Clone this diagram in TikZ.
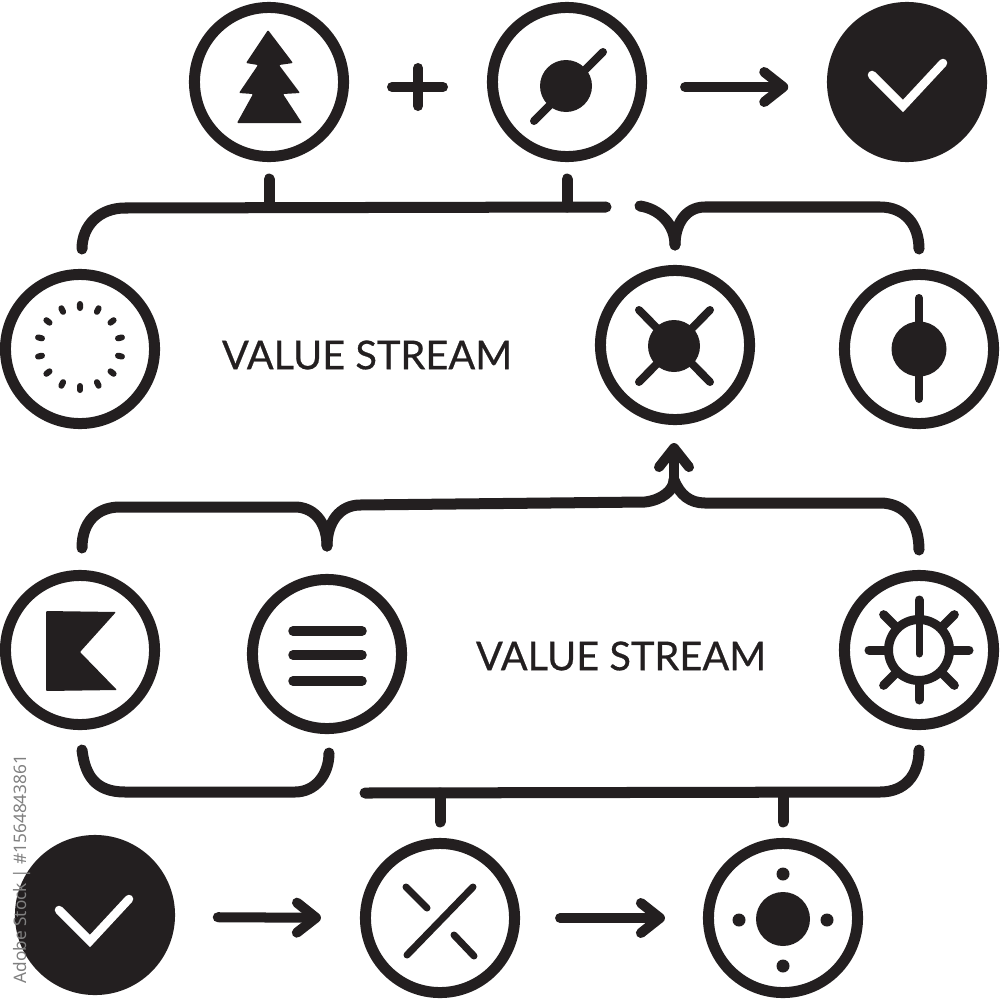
\documentclass[tikz,border=0pt]{standalone}
\usepackage{fontspec}
\setmainfont{Lato}
\newfontfamily\streamfont[FakeBold=0.6]{Lato}
\newfontfamily\stockfont{Noto Sans}
\usetikzlibrary{arrows.meta}
\definecolor{inkblack}{HTML}{231F20}
\tikzset{
    ring/.style={circle, draw=inkblack, line width=.11cm, inner sep=0, minimum size=1.49cm},
    solidring/.style={circle, fill=inkblack, inner sep=0, minimum size=1.60cm},
    bracket/.style={draw=inkblack, line width=.11cm, line cap=round, line join=round},
    glyph/.style={draw=inkblack, line width=.08cm, line cap=round, line join=round},
    blob/.style={fill=inkblack, rounded corners=.01cm},
    tick/.style={draw=white, line width=.085cm, line cap=round, line join=miter},
    flow/.style={bracket, line width=.10cm, -{Straight Barb[round, length=.19cm, width=.30cm, line width=.10cm]}},
    streamlabel/.style={text=inkblack, font=\streamfont\fontsize{11.3}{13}\selectfont},
}
\begin{document}
\begin{tikzpicture}[x=.01cm, y=-.01cm]
\useasboundingbox (0,0) rectangle (1000,1000);

% top row
\node [ring] (tree) at (269,82) {};
\node [ring] (orbit) at (567,82) {};
\node [solidring] (checktop) at (907,82) {};
% middle row
\node [ring] (spokes) at (80,349) {};
\node [streamlabel] (streamtop) at (367,355) {VALUE STREAM};
\node [ring] (cross) at (675,345) {};
\node [ring] (needle) at (919,349) {};
% lower row
\node [ring] (flag) at (80,650) {};
\node [ring] (menu) at (327,654) {};
\node [streamlabel] (streamlow) at (621,656) {VALUE STREAM};
\node [ring] (sun) at (919,650) {};
% bottom row
\node [solidring] (checklow) at (95,915) {};
\node [ring] (split) at (440,918) {};
\node [ring] (compass) at (783,918) {};

% flow arrows
\draw [flow, shorten <=.38cm, shorten >=.38cm] ([yshift=-.05cm]orbit.east) -- ([yshift=-.05cm]checktop.west);
\draw [flow, shorten <=.42cm, shorten >=.39cm] ([yshift=-.02cm]checklow.east) -- (split.west);
\draw [flow, shorten <=.40cm, shorten >=.38cm] (split.east) -- (compass.west);
\draw [glyph, line width=.10cm] (392,87) -- (443,87) (418,68) -- (418,106);

% brackets, top
\coordinate (topbar) at (606,207);
\draw [bracket] (82,249) .. controls (82,225) and (100,208) .. (125,208) -- (topbar);
\draw [bracket, shorten <=.17cm] (tree.south) -- (tree.south |- topbar);
\draw [bracket, shorten <=.17cm] (orbit.south) -- (orbit.south |- topbar);
\coordinate (crossfork) at (675,245);
\draw [bracket] (640,206) .. controls (660,209) and (675,225) .. (crossfork);
\draw [bracket] (crossfork) .. controls (675,225) and (685,207) .. (705,207) -- (880,207) .. controls (905,207) and (919,225) .. (919,249);

% brackets, middle
\coordinate (menufork) at (327,546);
\coordinate (crossroot) at (674,480);
\draw [bracket] (82,548) .. controls (82,522) and (97,507) .. (120,507) -- (295,507) .. controls (312,507) and (327,520) .. (menufork);
\draw [bracket] (menufork) .. controls (327,522) and (340,505) .. (360,505) -- (645,502) .. controls (662,500) and (674,490) .. (crossroot);
\draw [bracket] (crossroot) .. controls (680,495) and (690,503) .. (705,503) -- (880,503) .. controls (905,503) and (919,522) .. (919,550);
\draw [flow, shorten <=.02cm] (crossroot) -- ([xshift=-.01cm, yshift=-.18cm]cross.south);

% brackets, lower
\coordinate (lowbar) at (365,793);
\draw [bracket] (82,750) .. controls (85,775) and (95,792) .. (125,792) -- (295,792) .. controls (315,792) and (329,775) .. (329,753);
\draw [bracket] (lowbar) -- (880,792) .. controls (905,792) and (919,775) .. (919,750);
\draw [bracket, shorten <=.16cm] (split.north) -- (split.north |- lowbar);
\draw [bracket, shorten <=.16cm] (compass.north) -- (compass.north |- lowbar);

% icons
\fill [blob] (268,30) -- (293,63) -- (279,65) -- (300,93) -- (283,94) -- (302,123) -- (237,123) -- (253,94) -- (239,93) -- (258,65) -- (246,63) -- cycle;

\fill [inkblack] (566,86) circle (26);
\draw [glyph] (603,52) -- (534,121);

\fill [inkblack] (674,346) circle (26);
\draw [glyph] (639,310) -- (710,382) (710,310) -- (639,382);

\fill [inkblack] (919,349) circle (27.5);
\draw [glyph] (919,298) -- (919,399);

\foreach \n in {0,...,13}
    \draw [glyph, line width=.06cm] (80,347) ++(90+\n*25.714:43) -- ++(90+\n*25.714:-4);

\fill [blob] (46,611) -- (116,612) -- (80,652) -- (117,690) -- (46,691) -- cycle;

\draw [glyph, line width=.095cm] (293,631) -- (362,631) (293,655) -- (362,655) (293,681) -- (362,681);

\draw [inkblack, line width=.09cm] (919,650) circle (30.5);
\foreach \a in {0,45,...,315}
    \draw [glyph, line width=.09cm] (919,650) ++(\a:34) -- ++(\a:16);
\draw [glyph, line width=.07cm] (919,620) -- (919,654);

\draw [tick] (59,910) -- (90,941) -- (129,899);
\draw [tick] (872,75) -- (903,106) -- (943,63);

\draw [glyph, line width=.07cm] (473,887) -- (407,955) (406,887) -- (427,908) (454,935) -- (474,956);

\fill [inkblack] (783,919) circle (27);
\foreach \x/\y in {783/874, 783/966, 739/920, 827/920}
    \fill [inkblack] (\x,\y) circle (6.5);

% stock line along the left edge
\node [rotate=90, text=black!50, font=\stockfont\fontsize{4.9}{6}\selectfont, inner sep=0] (stockline) at (22,869) {Adobe Stock | \#1564843861};
\end{tikzpicture}
\end{document}
